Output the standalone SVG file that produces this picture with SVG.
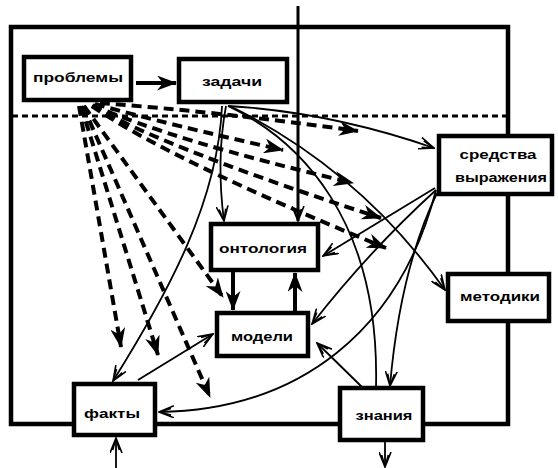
<svg xmlns="http://www.w3.org/2000/svg" width="558" height="468" viewBox="0 0 558 468">
<style>
.box{fill:#fff;stroke:#000;stroke-width:4.5}
.lbl{font-family:"Liberation Sans",Arial,sans-serif;font-weight:bold;font-size:13px;fill:#000;text-anchor:middle}
.dash{fill:none;stroke:#000;stroke-width:4;stroke-dasharray:10 6;marker-end:url(#fh)}
.thin{fill:none;stroke:#000;stroke-width:1.8;marker-end:url(#oh)}
.thick{fill:none;stroke:#000;stroke-width:4;marker-end:url(#fh)}
</style>
<defs>
<marker id="fh" markerUnits="userSpaceOnUse" viewBox="0 0 20 15" markerWidth="20" markerHeight="15" refX="19" refY="7.5" orient="auto"><path d="M0,0 L20,7.5 L0,15 L6,7.5 Z" fill="#000"/></marker>
<marker id="oh" markerUnits="userSpaceOnUse" viewBox="0 0 16 13" markerWidth="16" markerHeight="13" refX="15" refY="6.5" orient="auto"><path d="M0,0.5 L15,6.5 L0,12.5 M3,3.2 L15,6.5 L3,9.8" fill="none" stroke="#000" stroke-width="1.6"/></marker>
</defs>
<rect x="11" y="27" width="497" height="397" fill="none" stroke="#000" stroke-width="4.5"/>
<line x1="12" y1="116" x2="506" y2="116" stroke="#000" stroke-width="3" stroke-dasharray="6 4"/>
<g id="connectors">
<line x1="298" y1="6" x2="298" y2="221" stroke="#000" stroke-width="3" marker-end="url(#oh)"/>
<line x1="136" y1="83" x2="176" y2="83" class="thick"/>
<line x1="233" y1="272" x2="233" y2="310" class="thick"/>
<line x1="295" y1="312" x2="295" y2="273" class="thick"/>
<path class="dash" d="M100,103 Q220,112 358,131"/>
<path class="dash" d="M95,104 Q170,125 283,150"/>
<path class="dash" d="M93,105 Q170,140 353,183"/>
<path class="dash" d="M92,106 Q170,150 381,218"/>
<path class="dash" d="M92,106 Q170,160 386,248"/>
<path class="dash" d="M84,106 L223,297"/>
<path class="dash" d="M83,106 L210,397"/>
<path class="dash" d="M81,106 L158,355"/>
<path class="dash" d="M79,106 L121,347"/>
<path class="thin" d="M228,106 Q330,112 434,148"/>
<path class="thin" d="M230,106 Q360,170 445,290"/>
<path class="thin" d="M228,106 C300,140 380,220 376,387" style="marker-end:none"/>
<path class="thin" d="M226,106 Q216,160 224,221"/>
<path class="thin" d="M222,106 C218,200 170,290 113,381"/>
<path class="thin" d="M435,188 L323,256"/>
<path class="thin" d="M436,190 Q370,250 312,324"/>
<path class="thin" d="M437,193 Q400,270 390,386"/>
<path class="thin" d="M436,190 C400,330 300,410 159,412"/>
<path class="thin" d="M362,387 L317,343"/>
<path class="thin" d="M138,380 L213,334"/>
<line x1="116" y1="468" x2="116" y2="438" stroke="#000" stroke-width="1.8" marker-end="url(#oh)"/>
<line x1="385" y1="442" x2="385" y2="467" stroke="#000" stroke-width="1.8" marker-end="url(#oh)"/>
</g>
<g id="problemy"><rect class="box" x="24" y="57" width="107" height="43"/><text class="lbl" x="78" y="82" textLength="90" lengthAdjust="spacingAndGlyphs">проблемы</text></g>
<g id="zadachi"><rect class="box" x="179" y="59" width="108" height="43"/><text class="lbl" x="232" y="86" textLength="60" lengthAdjust="spacingAndGlyphs">задачи</text></g>
<g id="sredstva"><rect class="box" x="439" y="136" width="113" height="58"/><text class="lbl" x="498" y="159" textLength="77" lengthAdjust="spacingAndGlyphs">средства</text><text class="lbl" x="501" y="182" textLength="92" lengthAdjust="spacingAndGlyphs">выражения</text></g>
<g id="ontologiya"><rect class="box" x="211" y="224" width="107" height="46"/><text class="lbl" x="263" y="253" textLength="88" lengthAdjust="spacingAndGlyphs">онтология</text></g>
<g id="modeli"><rect class="box" x="217" y="313" width="91" height="43"/><text class="lbl" x="262" y="341" textLength="62" lengthAdjust="spacingAndGlyphs">модели</text></g>
<g id="metodiki"><rect class="box" x="448" y="274" width="101" height="47"/><text class="lbl" x="500" y="301" textLength="80" lengthAdjust="spacingAndGlyphs">методики</text></g>
<g id="fakty"><rect class="box" x="74" y="384" width="81" height="51"/><text class="lbl" x="112" y="418" textLength="56" lengthAdjust="spacingAndGlyphs">факты</text></g>
<g id="znaniya"><rect class="box" x="340" y="388" width="83" height="52"/><text class="lbl" x="384" y="420" textLength="57" lengthAdjust="spacingAndGlyphs">знания</text></g>
</svg>
